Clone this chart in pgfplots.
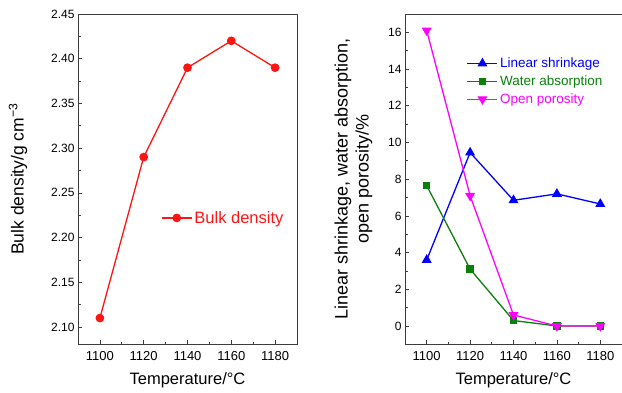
\documentclass[border=0pt]{standalone}
\usepackage{fontspec}
\setmainfont{Liberation Sans}
\usepackage{pgfplots}
\pgfplotsset{compat=1.18}
\definecolor{mygreen}{RGB}{10,128,10}
\definecolor{mymag}{RGB}{255,0,255}
\definecolor{myred}{RGB}{255,20,20}
\definecolor{axgray}{RGB}{60,60,60}
\pgfplotsset{
 myax/.style={
  scale only axis, height=330pt,
  xmin=1090, xmax=1190, xtick={1100,1120,...,1180}, minor x tick num=1,
  tick align=inside, xtick pos=left, ytick pos=left,
  major tick length=4pt, minor tick length=2.5pt,
  axis line style={axgray, line width=0.8pt},
  every tick/.style={axgray, line width=0.7pt},
  /pgf/number format/assume math mode=true,
  yticklabel style={font=\fontsize{12}{14}\selectfont},
  xticklabel style={font=\fontsize{13}{15}\selectfont, /pgf/number format/set thousands separator={}, yshift=-4pt},
  xlabel={Temperature/°C},
  xlabel style={font=\fontsize{16.5}{20}\selectfont, yshift=-5pt},
  every axis plot/.append style={line width=1.3pt},
 }
}
\begin{document}
\begin{tikzpicture}
\useasboundingbox (0,0) rectangle (622pt,392pt);
\begin{axis}[myax,
  at={(78pt,48pt)}, anchor=south west, width=219pt,
  ymin=2.081, ymax=2.45, ytick={2.10,2.15,...,2.451}, minor y tick num=1,
  yticklabel style={/pgf/number format/fixed, /pgf/number format/fixed zerofill, /pgf/number format/precision=2},
  ylabel={Bulk density/g cm\textsuperscript{\char"2212 3}},
  ylabel style={at={(axis description cs:-0.274,0.5)}, anchor=center, font=\fontsize{17.5}{20}\selectfont},
  legend image code/.code={\draw[mark repeat=2,mark phase=2,#1] plot coordinates {(0pt,0pt)(15pt,0pt)(30pt,0pt)};},
  legend style={draw=none, fill=none, at={(axis description cs:0.365,0.382)}, anchor=west, text=myred, font=\fontsize{16.5}{19}\selectfont},
]
\addplot[myred, mark=*, mark size=3.7pt, mark options={solid, fill=myred}] coordinates {
 (1100,2.11) (1120,2.29) (1140,2.39) (1160,2.42) (1180,2.39)};
\addlegendentry{Bulk density}
\end{axis}
\begin{axis}[myax,
  at={(405pt,48pt)}, anchor=south west, width=217pt,
  ymin=-0.98, ymax=17, ytick={0,2,...,16}, minor y tick num=1,
  ylabel={Linear shrinkage, water absorption,\\open porosity/\%},
  ylabel style={at={(axis description cs:-0.238,0.5)}, anchor=center, align=center, font=\fontsize{18}{21}\selectfont},
  legend image code/.code={\draw[mark repeat=2,mark phase=2,#1] plot coordinates {(0pt,0pt)(15pt,0pt)(30pt,0pt)};},
  legend style={draw=none, fill=none, at={(axis description cs:0.27,0.88)}, anchor=north west, font=\fontsize{13.5}{16}\selectfont, row sep=2.6pt},
  legend cell align=left,
]
\addplot[blue, mark=triangle*, mark size=4.5pt, mark options={solid, fill=blue}] coordinates {
 (1100,3.6) (1120,9.45) (1140,6.85) (1160,7.2) (1180,6.65)};
\addlegendentry{\textcolor{blue}{Linear shrinkage}}
\addplot[mygreen, mark=square*, mark size=3pt, mark options={solid, fill=mygreen}] coordinates {
 (1100,7.65) (1120,3.1) (1140,0.3) (1160,0.0) (1180,0.0)};
\addlegendentry{\textcolor{mygreen}{Water absorption}}
\addplot[mymag, mark=triangle*, mark size=4.5pt, mark options={solid, fill=mymag, rotate=180}] coordinates {
 (1100,16.1) (1120,7.1) (1140,0.6) (1160,0.0) (1180,0.0)};
\addlegendentry{\textcolor{mymag}{Open porosity}}
\end{axis}
\end{tikzpicture}
\end{document}
